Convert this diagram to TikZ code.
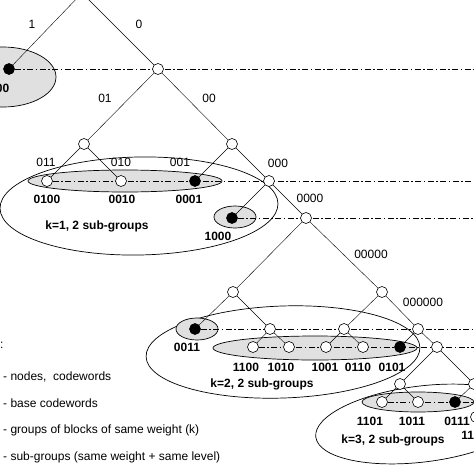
\documentclass[tikz,border=0pt]{standalone}
\usepackage{fontspec}
\setmainfont{Liberation Sans}
\usepackage{tikz}
\pgfdeclarelayer{groups}
\pgfdeclarelayer{links}
\pgfsetlayers{groups,links,main}
\tikzset{
  vtx/.style = {circle, draw, fill=white, inner sep=0pt, minimum size=11pt, line width=0.6pt},
  base/.style = {vtx, fill=black},
  word/.style = {font=\fontsize{12}{14}\selectfont\bfseries, inner sep=0pt},
  bits/.style = {font=\fontsize{12}{14}\selectfont, inner sep=0pt},
  levelline/.style = {line width=0.6pt, dash pattern=on 6pt off 2.5pt on 1.5pt off 2.5pt},
  group/.style = {draw, line width=0.7pt},
  subgroup/.style = {draw, fill=black!12, line width=0.7pt}
}

\begin{document}
\begin{tikzpicture}[x=1pt, y=-1pt, line width=0.6pt]
\useasboundingbox (0,0) rectangle (474,474);
\coordinate (rim) at (474,0);
\coordinate (root) at (82,-7);

% tree nodes
\node[base] (b0000) at (9,69) {};
\node[vtx] (v0) at (158,69) {};
\node[vtx] (v01) at (84,144) {};
\node[vtx] (v00) at (232,144) {};
\node[vtx] (c0100) at (47,181) {};
\node[vtx] (c0010) at (121,181) {};
\node[base] (c0001) at (195,181) {};
\node[vtx] (v000) at (269,181) {};
\node[base] (c1000) at (232,218) {};
\node[vtx] (v0000) at (306,218) {};
\node[vtx] (a5) at (233,292) {};
\node[vtx] (v00000) at (382,292) {};
\node[base] (c0011) at (195,329) {};
\node[vtx] (a6) at (270,329) {};
\node[vtx] (b6) at (344,329) {};
\node[vtx] (v000000) at (418,329) {};
\node[vtx] (c1100) at (253,347) {};
\node[vtx] (c1010) at (289,347) {};
\node[vtx] (c1001) at (326,347) {};
\node[vtx] (c0110) at (363,347) {};
\node[base] (c0101) at (400,347) {};
\node[vtx] (v7) at (437,347) {};
\node[vtx] (a8) at (400,384) {};
\node[vtx] (v8) at (474,384) {};
\node[vtx] (c1101) at (382,402) {};
\node[vtx] (c1011) at (418,402) {};
\node[base] (c0111) at (455,402) {};
\node[vtx] (c1110) at (476,417) {};

% groups and sub-groups
\begin{pgfonlayer}{groups}
\draw[subgroup] (3,77) ellipse [x radius=53pt, y radius=30pt];
\draw[group, rotate around={1:(139,206)}] (139,206) ellipse [x radius=139pt, y radius=49pt];
\draw[subgroup] (125,181) ellipse [x radius=97pt, y radius=11pt];
\draw[subgroup] (235,217) ellipse [x radius=21pt, y radius=11pt];
\draw[group, rotate around={2:(283,352)}] (283,352) ellipse [x radius=137pt, y radius=46pt];
\draw[subgroup] (197,329) ellipse [x radius=21pt, y radius=11pt];
\draw[subgroup] (315,348) ellipse [x radius=102pt, y radius=12pt];
\draw[group, rotate around={7:(422,424)}] (422,424) ellipse [x radius=107pt, y radius=38pt];
\draw[subgroup] (418,402) ellipse [x radius=56pt, y radius=10pt];
\end{pgfonlayer}

\begin{pgfonlayer}{links}
% levels
\draw[levelline] (b0000) -- (b0000 -| rim);
\draw[levelline] (c0100) -- (c0100 -| rim);
\draw[levelline] (c1000) -- (c1000 -| rim);
\draw[levelline] (c0011) -- (c0011 -| rim);
\draw[levelline] (c1100) -- (c1100 -| rim);
\draw[levelline] (c1101) -- (c1101 -| rim);
% branches
\draw (root) -- (b0000) (root) -- (v0);
\draw (v0) -- (v01) (v0) -- (v00);
\draw (v01) -- (c0100) (v01) -- (c0010);
\draw (v00) -- (c0001) (v00) -- (v000);
\draw (v000) -- (c1000) (v000) -- (v0000);
\draw (v0000) -- (a5) (v0000) -- (v00000);
\draw (a5) -- (c0011) (a5) -- (a6);
\draw (v00000) -- (b6) (v00000) -- (v000000);
\draw (a6) -- (c1100) (a6) -- (c1010);
\draw (b6) -- (c1001) (b6) -- (c0110);
\draw (v000000) -- (c0101) (v000000) -- (v7);
\draw (v7) -- (a8) (v7) -- (v8);
\draw (a8) -- (c1101) (a8) -- (c1011);
\draw (v8) -- (c0111);
\end{pgfonlayer}

% branch labels
\node[bits] (l1) at (32,24) {1};
\node[bits] (l0) at (139,24) {0};
\node[bits] (l01) at (105,98) {01};
\node[bits] (l00) at (209,98) {00};
\node[bits] (l011) at (46,162) {011};
\node[bits] (l010) at (121,162) {010};
\node[bits] (l001) at (180,162) {001};
\node[bits] (l000) at (278,163) {000};
\node[bits] (l0000) at (310,198) {0000};
\node[bits] (l00000) at (371,254) {00000};
\node[bits] (l000000) at (423,302) {000000};

% codewords
\node[word] (w0000) at (-4,88) {0000};
\node[word] (w0100) at (47,199) {0100};
\node[word] (w0010) at (122,199) {0010};
\node[word] (w0001) at (189,199) {0001};
\node[word] (w1000) at (218,236) {1000};
\node[word] (w0011) at (187,347) {0011};
\node[word] (w1100) at (246,367) {1100};
\node[word] (w1010) at (281,367) {1010};
\node[word] (w1001) at (325,367) {1001};
\node[word] (w0110) at (358,367) {0110};
\node[word] (w0101) at (392,367) {0101};
\node[word] (w1101) at (370,421) {1101};
\node[word] (w1011) at (412,421) {1011};
\node[word] (w0111) at (457,421) {0111};
\node[word] (w1110) at (474,435) {1110};

% group names
\node[word] (k1) at (97,226) {k=1, 2 sub-groups};
\node[word] (k2) at (262,384) {k=2, 2 sub-groups};
\node[word] (k3) at (393,440) {k=3, 2 sub-groups};

% legend
\node[bits, anchor=west] (key) at (0,345) {:};
\node[bits, anchor=west] (key1) at (3,377) {- nodes, \ codewords};
\node[bits, anchor=west] (key2) at (3,403) {- base codewords};
\node[bits, anchor=west] (key3) at (3,430) {- groups of blocks of same weight (k)};
\node[bits, anchor=west] (key4) at (3,457) {- sub-groups (same weight + same level)};
\end{tikzpicture}
\end{document}
